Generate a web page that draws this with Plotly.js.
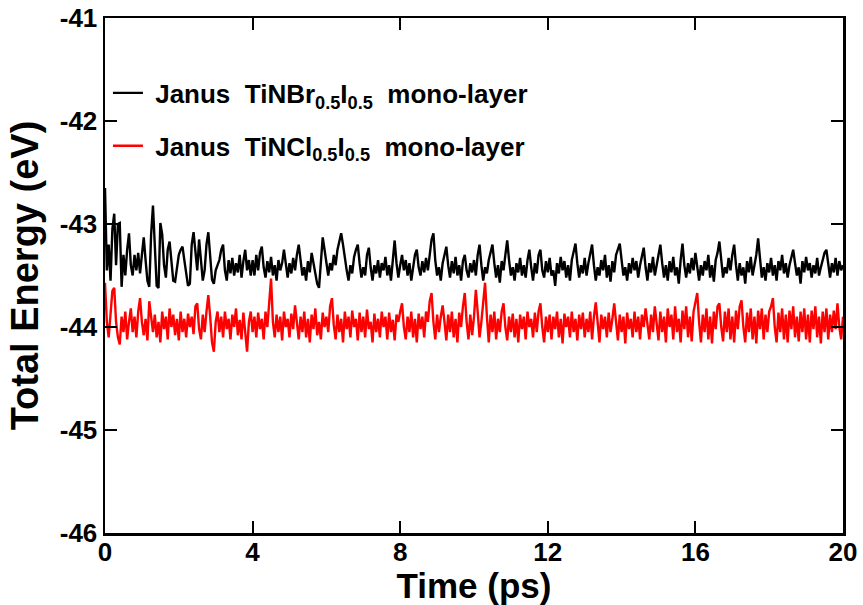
<!DOCTYPE html>
<html>
<head>
<meta charset="utf-8">
<script src="https://cdn.plot.ly/plotly-3.0.1.min.js"></script>
<style>html,body{margin:0;padding:0;background:#fff;}#chart{width:863px;height:605px;}</style>
</head>
<body>
<div id="chart"></div>
<script>
// sampling interval of the MD trace (ps)
const timeStep = 0.05;

const seriesNames = [
  "\u00A0Janus\u00A0\u00A0TiNBr<sub>0.5</sub>I<sub>0.5</sub>\u00A0\u00A0mono-layer",
  "\u00A0Janus\u00A0\u00A0TiNCl<sub>0.5</sub>I<sub>0.5</sub>\u00A0\u00A0mono-layer"
];

const energyTiNBrI = [
-42.65,-43.45,-43.20,-43.55,-43.05,-42.90,-43.40,-43.00,-42.99,-43.61,-43.30,-43.50,-43.25,-43.09,-43.40,-43.50,-43.30,-43.45,-43.28,-43.48,
-43.30,-43.13,-43.35,-43.55,-43.61,-43.10,-42.82,-43.20,-43.60,-43.62,-42.99,-43.10,-43.40,-43.52,-43.25,-43.17,-43.40,-43.55,-43.56,-43.40,
-43.30,-43.25,-43.22,-43.35,-43.50,-43.60,-43.58,-43.20,-43.08,-43.30,-43.45,-43.15,-43.40,-43.55,-43.45,-43.20,-43.08,-43.30,-43.54,-43.58,
-43.45,-43.40,-43.35,-43.25,-43.20,-43.45,-43.55,-43.35,-43.48,-43.33,-43.50,-43.38,-43.47,-43.30,-43.52,-43.36,-43.25,-43.45,-43.35,-43.50,
-43.35,-43.50,-43.30,-43.45,-43.28,-43.22,-43.42,-43.52,-43.36,-43.47,-43.32,-43.50,-43.40,-43.55,-43.35,-43.45,-43.38,-43.25,-43.40,-43.52,
-43.38,-43.48,-43.33,-43.45,-43.30,-43.20,-43.35,-43.50,-43.42,-43.55,-43.36,-43.47,-43.28,-43.38,-43.52,-43.58,-43.62,-43.40,-43.13,-43.25,
-43.40,-43.50,-43.38,-43.45,-43.30,-43.40,-43.25,-43.15,-43.09,-43.20,-43.35,-43.45,-43.55,-43.40,-43.48,-43.32,-43.25,-43.20,-43.38,-43.52,
-43.42,-43.50,-43.30,-43.23,-43.42,-43.55,-43.40,-43.48,-43.35,-43.52,-43.38,-43.45,-43.32,-43.50,-43.40,-43.55,-43.35,-43.16,-43.38,-43.52,
-43.40,-43.30,-43.45,-43.35,-43.50,-43.38,-43.55,-43.40,-43.30,-43.25,-43.42,-43.50,-43.36,-43.47,-43.33,-43.45,-43.28,-43.15,-43.09,-43.35,
-43.50,-43.42,-43.55,-43.38,-43.30,-43.22,-43.40,-43.52,-43.36,-43.48,-43.32,-43.50,-43.40,-43.55,-43.36,-43.30,-43.45,-43.52,-43.38,-43.47,
-43.35,-43.50,-43.30,-43.20,-43.40,-43.55,-43.42,-43.48,-43.35,-43.28,-43.20,-43.38,-43.52,-43.40,-43.57,-43.36,-43.45,-43.30,-43.16,-43.35,
-43.50,-43.42,-43.55,-43.38,-43.47,-43.33,-43.50,-43.40,-43.52,-43.35,-43.25,-43.42,-43.55,-43.38,-43.48,-43.30,-43.25,-43.45,-43.52,-43.36,
-43.47,-43.33,-43.50,-43.45,-43.60,-43.38,-43.48,-43.32,-43.45,-43.36,-43.52,-43.40,-43.55,-43.35,-43.28,-43.19,-43.38,-43.52,-43.40,-43.48,
-43.33,-43.50,-43.38,-43.28,-43.20,-43.40,-43.55,-43.42,-43.50,-43.35,-43.45,-43.30,-43.52,-43.40,-43.56,-43.36,-43.47,-43.30,-43.25,-43.19,
-43.35,-43.50,-43.42,-43.55,-43.38,-43.48,-43.33,-43.45,-43.36,-43.52,-43.40,-43.30,-43.23,-43.42,-43.55,-43.38,-43.47,-43.32,-43.50,-43.40,
-43.30,-43.20,-43.38,-43.52,-43.40,-43.55,-43.36,-43.47,-43.32,-43.50,-43.42,-43.58,-43.35,-43.19,-43.40,-43.52,-43.38,-43.48,-43.33,-43.45,
-43.28,-43.42,-43.55,-43.40,-43.50,-43.36,-43.45,-43.30,-43.52,-43.40,-43.56,-43.35,-43.28,-43.17,-43.38,-43.52,-43.42,-43.48,-43.33,-43.45,
-43.30,-43.20,-43.40,-43.55,-43.38,-43.50,-43.42,-43.58,-43.36,-43.47,-43.32,-43.50,-43.40,-43.30,-43.14,-43.35,-43.52,-43.42,-43.55,-43.38,
-43.47,-43.33,-43.50,-43.40,-43.55,-43.36,-43.45,-43.30,-43.48,-43.38,-43.52,-43.40,-43.33,-43.25,-43.38,-43.50,-43.42,-43.58,-43.36,-43.47,
-43.32,-43.45,-43.38,-43.52,-43.40,-43.48,-43.33,-43.50,-43.42,-43.35,-43.28,-43.25,-43.40,-43.52,-43.38,-43.47,-43.33,-43.50,-43.36,-43.45,
-43.40
];

const energyTiNClI = [
-43.57,-43.95,-44.10,-43.85,-43.65,-43.62,-43.95,-44.10,-44.17,-43.90,-44.05,-43.85,-44.12,-43.95,-43.82,-44.05,-43.90,-44.10,-43.85,-43.72,
-43.95,-44.08,-43.92,-44.13,-43.75,-43.90,-44.05,-43.88,-44.10,-43.95,-44.15,-43.85,-44.02,-43.90,-44.12,-43.82,-44.00,-43.88,-44.08,-43.92,
-44.13,-43.85,-44.05,-43.92,-44.10,-43.87,-44.00,-43.90,-44.07,-43.80,-43.77,-44.02,-44.12,-43.88,-44.05,-43.85,-43.69,-43.90,-44.15,-44.24,
-43.95,-43.85,-44.05,-43.90,-44.10,-43.85,-44.02,-43.92,-44.12,-43.88,-44.00,-43.82,-44.08,-43.93,-44.12,-43.86,-44.05,-44.24,-43.95,-43.85,
-44.05,-43.90,-44.10,-43.86,-44.02,-43.92,-44.12,-43.85,-44.00,-43.80,-43.53,-43.95,-44.10,-43.88,-44.05,-43.90,-44.13,-43.85,-44.00,-43.92,
-44.10,-43.87,-44.02,-43.79,-43.95,-44.12,-43.90,-44.05,-43.85,-44.10,-43.92,-44.15,-43.88,-44.02,-43.82,-44.08,-43.95,-44.12,-43.86,-44.00,
-43.90,-44.05,-43.80,-43.72,-43.98,-44.12,-43.88,-44.05,-43.92,-44.15,-43.85,-44.02,-43.90,-44.10,-43.84,-44.00,-43.92,-44.13,-43.86,-44.05,
-43.90,-44.10,-43.83,-44.02,-43.95,-44.15,-43.87,-44.05,-43.92,-44.10,-43.85,-44.00,-43.90,-44.12,-43.86,-44.05,-43.93,-44.13,-43.88,-43.95,
-43.85,-43.77,-44.00,-44.12,-43.90,-44.05,-43.85,-44.10,-43.92,-44.15,-43.87,-44.02,-43.90,-44.10,-43.85,-43.95,-43.75,-43.67,-43.95,-44.12,
-43.88,-44.05,-43.90,-43.79,-43.95,-44.13,-43.88,-44.05,-43.85,-44.10,-43.92,-44.15,-43.86,-44.00,-43.80,-43.67,-43.95,-44.12,-43.88,-44.08,
-43.90,-43.64,-43.85,-44.10,-43.95,-43.75,-43.57,-43.90,-44.15,-43.88,-44.05,-43.85,-44.12,-43.92,-44.05,-43.85,-43.77,-44.00,-44.13,-43.90,
-44.05,-43.87,-44.10,-43.92,-44.15,-43.88,-44.02,-43.90,-44.12,-43.85,-44.00,-43.92,-44.10,-43.86,-44.05,-43.85,-43.77,-44.00,-44.15,-43.90,
-44.05,-43.88,-44.12,-43.90,-44.02,-43.85,-44.10,-43.92,-44.16,-43.87,-44.00,-43.90,-44.10,-43.85,-44.05,-43.92,-44.13,-43.88,-44.02,-43.86,
-44.10,-43.92,-44.05,-43.85,-44.12,-43.90,-43.76,-43.95,-44.15,-43.88,-44.02,-43.90,-44.10,-43.86,-44.05,-43.92,-43.77,-43.95,-44.13,-43.88,
-44.05,-43.90,-44.16,-43.86,-44.02,-43.92,-44.10,-43.85,-44.05,-43.90,-44.12,-43.88,-44.00,-43.82,-43.95,-44.12,-43.88,-44.05,-43.80,-44.00,
-44.13,-43.85,-44.05,-43.90,-44.15,-43.82,-44.00,-43.88,-44.12,-43.80,-44.05,-43.92,-44.15,-43.84,-44.02,-43.80,-44.10,-43.90,-44.14,-43.85,
-43.75,-43.67,-43.95,-44.15,-43.88,-44.05,-43.82,-44.12,-43.90,-44.16,-43.85,-44.02,-43.80,-43.77,-44.00,-44.14,-43.85,-44.05,-43.82,-44.12,
-43.90,-44.15,-43.84,-44.02,-43.80,-43.74,-44.00,-44.15,-43.86,-44.05,-43.82,-44.12,-43.90,-44.16,-43.84,-44.02,-43.82,-44.12,-43.88,-44.05,
-43.85,-43.80,-43.72,-44.00,-44.15,-43.86,-44.05,-43.82,-44.12,-43.88,-44.15,-43.84,-44.02,-43.80,-44.10,-43.90,-44.14,-43.85,-44.05,-43.82,
-44.12,-43.88,-44.15,-43.84,-44.02,-43.80,-44.10,-43.90,-44.16,-43.85,-44.05,-43.82,-44.12,-43.88,-44.05,-43.84,-44.02,-43.77,-44.00,-44.12,
-43.90
];

const xTickVals = [0, 4, 8, 12, 16, 20];
const yTickVals = [-46, -45, -44, -43, -42, -41];

const timeBr = energyTiNBrI.map((_, i) => +(i * timeStep).toFixed(2));
const timeCl = energyTiNClI.map((_, i) => +(i * timeStep).toFixed(2));

const FONT = "'Liberation Sans', Arial, Helvetica, sans-serif";

const traces = [
  {x: timeBr, y: energyTiNBrI, type: 'scatter', mode: 'lines', name: seriesNames[0],
   line: {color: '#000000', width: 2.4}, legendgroup: 'a'},
  {x: timeCl, y: energyTiNClI, type: 'scatter', mode: 'lines', name: seriesNames[1],
   line: {color: '#ff0000', width: 2.4}, legendgroup: 'b'}
];

const axisCommon = {
  showline: true, mirror: 'ticks', linecolor: '#000', linewidth: 2.5,
  ticks: 'inside', ticklen: 12, tickwidth: 2, tickcolor: '#000',
  showgrid: false, zeroline: false,
  tickfont: {family: FONT, size: 26, color: '#000', weight: 'bold'}
};

const layout = {
  width: 863, height: 605,
  margin: {l: 105, r: 20, t: 18, b: 72},
  paper_bgcolor: '#fff', plot_bgcolor: '#fff',
  font: {family: FONT, color: '#000', weight: 'bold'},
  showlegend: true,
  legend: {
    x: 0.004, y: 0.9, xanchor: 'left', yanchor: 'top',
    bgcolor: 'rgba(0,0,0,0)', borderwidth: 0,
    font: {family: FONT, size: 26, color: '#000', weight: 'bold'},
    traceorder: 'grouped', tracegroupgap: 16
  },
  xaxis: Object.assign({}, axisCommon, {
    range: [0, 20], tickvals: xTickVals, ticktext: xTickVals.map(String),
    ticklabelstandoff: -6,
    title: {text: 'Time (ps)', font: {family: FONT, size: 35, color: '#000', weight: 'bold'}, standoff: 8}
  }),
  yaxis: Object.assign({}, axisCommon, {
    range: [-46, -41], tickvals: yTickVals, ticktext: yTickVals.map(String),
    title: {text: 'Total Energy (eV)', font: {family: FONT, size: 38, color: '#000', weight: 'bold'}, standoff: 10}
  })
};

Plotly.newPlot('chart', traces, layout, {displayModeBar: false, staticPlot: true});
</script>
</body>
</html>
